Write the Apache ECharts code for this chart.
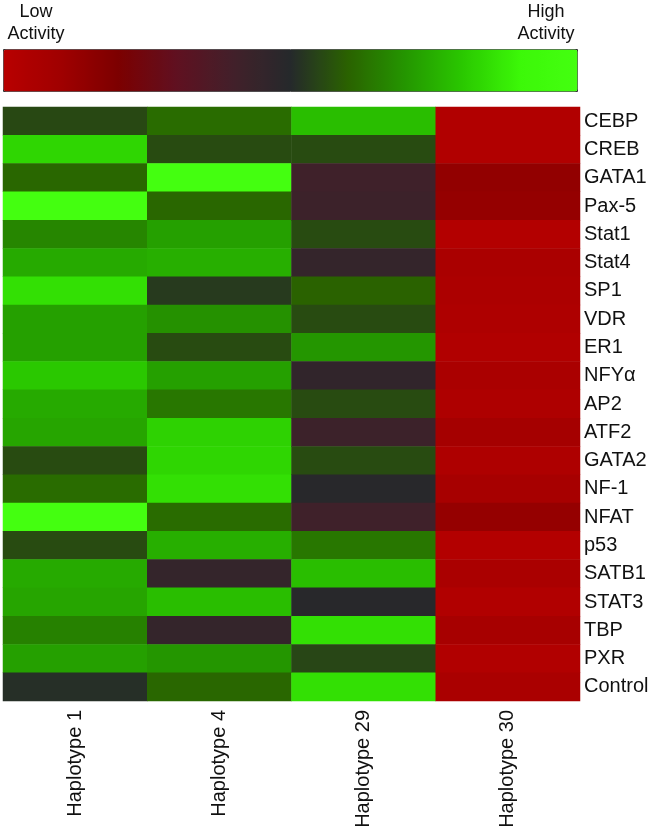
<!DOCTYPE html>
<html>
<head>
<meta charset="utf-8">
<script src="https://cdn.jsdelivr.net/npm/echarts@6/dist/echarts.min.js"></script>
<style>
  html, body { margin: 0; padding: 0; background: #fff; }
  #chart { width: 660px; height: 835px; }
</style>
</head>
<body>
<div id="chart"></div>
<script>
// 数据
const haplotypes = ['Haplotype 1', 'Haplotype 4', 'Haplotype 29', 'Haplotype 30']
const factors = ['CEBP', 'CREB', 'GATA1', 'Pax-5', 'Stat1', 'Stat4', 'SP1', 'VDR', 'ER1', 'NFYα', 'AP2',
  'ATF2', 'GATA2', 'NF-1', 'NFAT', 'p53', 'SATB1', 'STAT3', 'TBP', 'PXR', 'Control']

// activity per haplotype, one value per factor (0 = low, 1 = high)
const hap1 = [0.555, 0.83, 0.61, 1.0, 0.67, 0.74, 0.85, 0.72, 0.72, 0.80, 0.74,
  0.73, 0.56, 0.62, 1.0, 0.56, 0.74, 0.73, 0.66, 0.72, 0.51]
const hap4 = [0.62, 0.56, 1.0, 0.61, 0.72, 0.75, 0.53, 0.69, 0.56, 0.72, 0.64,
  0.82, 0.83, 0.85, 0.62, 0.75, 0.45, 0.78, 0.45, 0.70, 0.61]
const hap29 = [0.78, 0.56, 0.41, 0.42, 0.56, 0.45, 0.60, 0.56, 0.70, 0.46, 0.56,
  0.42, 0.56, 0.49, 0.41, 0.64, 0.78, 0.49, 0.85, 0.55, 0.85]
const hap30 = [0.03, 0.03, 0.14, 0.13, 0.02, 0.06, 0.05, 0.04, 0.03, 0.06, 0.04,
  0.08, 0.04, 0.07, 0.13, 0.02, 0.06, 0.03, 0.07, 0.03, 0.06]

// colour scale, low -> high activity
const scaleColors = ['#b80000', '#a00000', '#7c0000', '#601020', '#42202a', '#25292b',
  '#2a6200', '#249600', '#2ac800', '#3cf808', '#44ff10']

const columns = [hap1, hap4, hap29, hap30]
let data = []
columns.forEach((col, x) => {
  col.forEach((v, y) => {
    data.push([x, y, v])
  })
})

let myChart = echarts.init(document.getElementById('chart'))

let options = {
  backgroundColor: '#fff',
  animation: false,
  textStyle: { fontFamily: 'Liberation Sans, Arial, sans-serif' },
  grid: {
    left: 3,
    right: 80,
    top: 107,
    bottom: 134,
  },
  xAxis: {
    type: 'category',
    data: haplotypes,
    axisLine: { show: false },
    axisTick: { show: false },
    splitLine: { show: false },
    axisLabel: {
      rotate: 90,
      margin: 9,
      fontSize: 20,
      color: '#111',
    },
  },
  yAxis: {
    type: 'category',
    data: factors,
    inverse: true,
    position: 'right',
    axisLine: { show: false },
    axisTick: { show: false },
    splitLine: { show: false },
    axisLabel: {
      margin: 4,
      fontSize: 20,
      color: '#111',
    },
  },
  visualMap: {
    type: 'continuous',
    min: 0,
    max: 1,
    orient: 'horizontal',
    left: 3,
    top: 49,
    itemWidth: 42,
    itemHeight: 574,
    padding: 0,
    borderWidth: 1,
    borderColor: '#333',
    calculable: false,
    hoverLink: false,
    text: null,
    showLabel: false,
    inRange: {
      color: scaleColors,
    },
  },
  graphic: [
    {
      type: 'text',
      x: 36,
      y: 1,
      style: {
        text: 'Low\nActivity',
        align: 'center',
        fontSize: 18,
        lineHeight: 22,
        fill: '#111',
        fontFamily: 'Liberation Sans, Arial, sans-serif',
      },
    },
    {
      type: 'text',
      x: 546,
      y: 1,
      style: {
        text: 'High\nActivity',
        align: 'center',
        fontSize: 18,
        lineHeight: 22,
        fill: '#111',
        fontFamily: 'Liberation Sans, Arial, sans-serif',
      },
    },
  ],
  series: [
    {
      type: 'heatmap',
      data: data,
      itemStyle: { borderWidth: 0 },
      emphasis: { disabled: true },
    },
  ],
}

myChart.setOption(options)
</script>
</body>
</html>
